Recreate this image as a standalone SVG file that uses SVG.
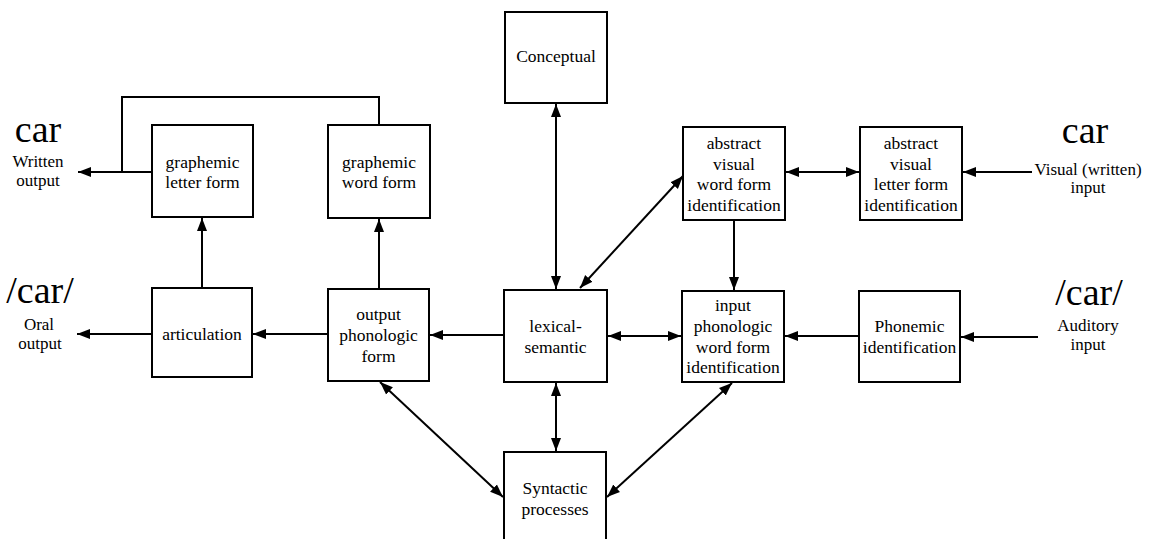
<svg xmlns="http://www.w3.org/2000/svg" width="1149" height="539" viewBox="0 0 1149 539">
<style>
  .box { fill: #fff; stroke: #000; stroke-width: 2; }
  text { font-family: 'Liberation Serif', 'DejaVu Serif', 'Noto Serif', serif; fill: #000; text-anchor: middle; }
  .t { font-size: 17.5px; }
  .s { font-size: 17px; }
  .big { font-size: 38px; }
  .c { fill: none; stroke: #000; stroke-width: 2; }
</style>
<defs>
  <marker id="ah" markerUnits="userSpaceOnUse" markerWidth="14" markerHeight="12" refX="13" refY="6" orient="auto-start-reverse">
    <path d="M0,1 L13,6 L0,11 z" fill="#000"/>
  </marker>
</defs>
<rect width="1149" height="539" fill="#fff"/>

<g id="connectors">
  <line class="c" x1="152" y1="172" x2="78" y2="172" marker-end="url(#ah)"/>
  <polyline class="c" points="379,125 379,97 122,97 122,172"/>
  <line class="c" x1="202" y1="288" x2="202" y2="218" marker-end="url(#ah)"/>
  <line class="c" x1="379" y1="289" x2="379" y2="219" marker-end="url(#ah)"/>
  <line class="c" x1="152" y1="334" x2="77" y2="334" marker-end="url(#ah)"/>
  <line class="c" x1="328" y1="334" x2="253" y2="334" marker-end="url(#ah)"/>
  <line class="c" x1="504" y1="335" x2="430" y2="335" marker-end="url(#ah)"/>
  <line class="c" x1="556" y1="104" x2="556" y2="289" marker-start="url(#ah)" marker-end="url(#ah)"/>
  <line class="c" x1="580" y1="288" x2="683" y2="176" marker-start="url(#ah)" marker-end="url(#ah)"/>
  <line class="c" x1="786" y1="172" x2="859" y2="172" marker-start="url(#ah)" marker-end="url(#ah)"/>
  <line class="c" x1="1032" y1="172" x2="963" y2="172" marker-end="url(#ah)"/>
  <line class="c" x1="734" y1="221" x2="734" y2="290" marker-end="url(#ah)"/>
  <line class="c" x1="608" y1="336" x2="681" y2="336" marker-start="url(#ah)" marker-end="url(#ah)"/>
  <line class="c" x1="859" y1="336" x2="785" y2="336" marker-end="url(#ah)"/>
  <line class="c" x1="1038" y1="337" x2="961" y2="337" marker-end="url(#ah)"/>
  <line class="c" x1="556" y1="383" x2="556" y2="451" marker-start="url(#ah)" marker-end="url(#ah)"/>
  <line class="c" x1="380" y1="382" x2="503" y2="497" marker-start="url(#ah)" marker-end="url(#ah)"/>
  <line class="c" x1="732" y1="383" x2="607" y2="497" marker-start="url(#ah)" marker-end="url(#ah)"/>
</g>

<g id="written-output">
  <text class="big" x="38" y="142">car</text>
  <text class="s" x="38" y="167">Written</text>
  <text class="s" x="38" y="186">output</text>
</g>
<g id="oral-output">
  <text class="big" x="40" y="303">/car/</text>
  <text class="s" x="39" y="330">Oral</text>
  <text class="s" x="40" y="349">output</text>
</g>
<g id="visual-input">
  <text class="big" x="1085" y="143">car</text>
  <text class="s" x="1088" y="175">Visual (written)</text>
  <text class="s" x="1088" y="193">input</text>
</g>
<g id="auditory-input">
  <text class="big" x="1089" y="305">/car/</text>
  <text class="s" x="1088" y="331">Auditory</text>
  <text class="s" x="1088" y="350">input</text>
</g>

<g id="graphemic-letter-form">
  <rect class="box" x="152" y="125" width="101" height="92"/>
  <text class="t" x="202.5" y="168">graphemic</text>
  <text class="t" x="202.5" y="188">letter form</text>
</g>
<g id="graphemic-word-form">
  <rect class="box" x="328" y="125" width="102" height="93"/>
  <text class="t" x="379" y="168">graphemic</text>
  <text class="t" x="379" y="188">word form</text>
</g>
<g id="conceptual">
  <rect class="box" x="505" y="12" width="102" height="91"/>
  <text class="t" x="556" y="62">Conceptual</text>
</g>
<g id="abstract-visual-word-form">
  <rect class="box" x="683" y="127" width="102" height="93"/>
  <text class="t" x="734" y="149">abstract</text>
  <text class="t" x="734" y="169.5">visual</text>
  <text class="t" x="734" y="190">word form</text>
  <text class="t" x="734" y="210.5">identification</text>
</g>
<g id="abstract-visual-letter-form">
  <rect class="box" x="860" y="127" width="102" height="93"/>
  <text class="t" x="911" y="149">abstract</text>
  <text class="t" x="911" y="169.5">visual</text>
  <text class="t" x="911" y="190">letter form</text>
  <text class="t" x="911" y="210.5">identification</text>
</g>
<g id="articulation">
  <rect class="box" x="152" y="288" width="100" height="89"/>
  <text class="t" x="202" y="340">articulation</text>
</g>
<g id="output-phonologic-form">
  <rect class="box" x="328" y="289" width="101" height="92"/>
  <text class="t" x="378.5" y="320">output</text>
  <text class="t" x="378.5" y="341">phonologic</text>
  <text class="t" x="378.5" y="362">form</text>
</g>
<g id="lexical-semantic">
  <rect class="box" x="504" y="290" width="103" height="92"/>
  <text class="t" x="555.5" y="332">lexical-</text>
  <text class="t" x="555.5" y="353">semantic</text>
</g>
<g id="input-phonologic-word-form">
  <rect class="box" x="682" y="291" width="102" height="91"/>
  <text class="t" x="733" y="311">input</text>
  <text class="t" x="733" y="332">phonologic</text>
  <text class="t" x="733" y="353">word form</text>
  <text class="t" x="733" y="373">identification</text>
</g>
<g id="phonemic-identification">
  <rect class="box" x="859" y="291" width="101" height="91"/>
  <text class="t" x="909.5" y="332">Phonemic</text>
  <text class="t" x="909.5" y="353">identification</text>
</g>
<g id="syntactic-processes">
  <rect class="box" x="504" y="452" width="102" height="100"/>
  <text class="t" x="555" y="494">Syntactic</text>
  <text class="t" x="555" y="515">processes</text>
</g>
</svg>
